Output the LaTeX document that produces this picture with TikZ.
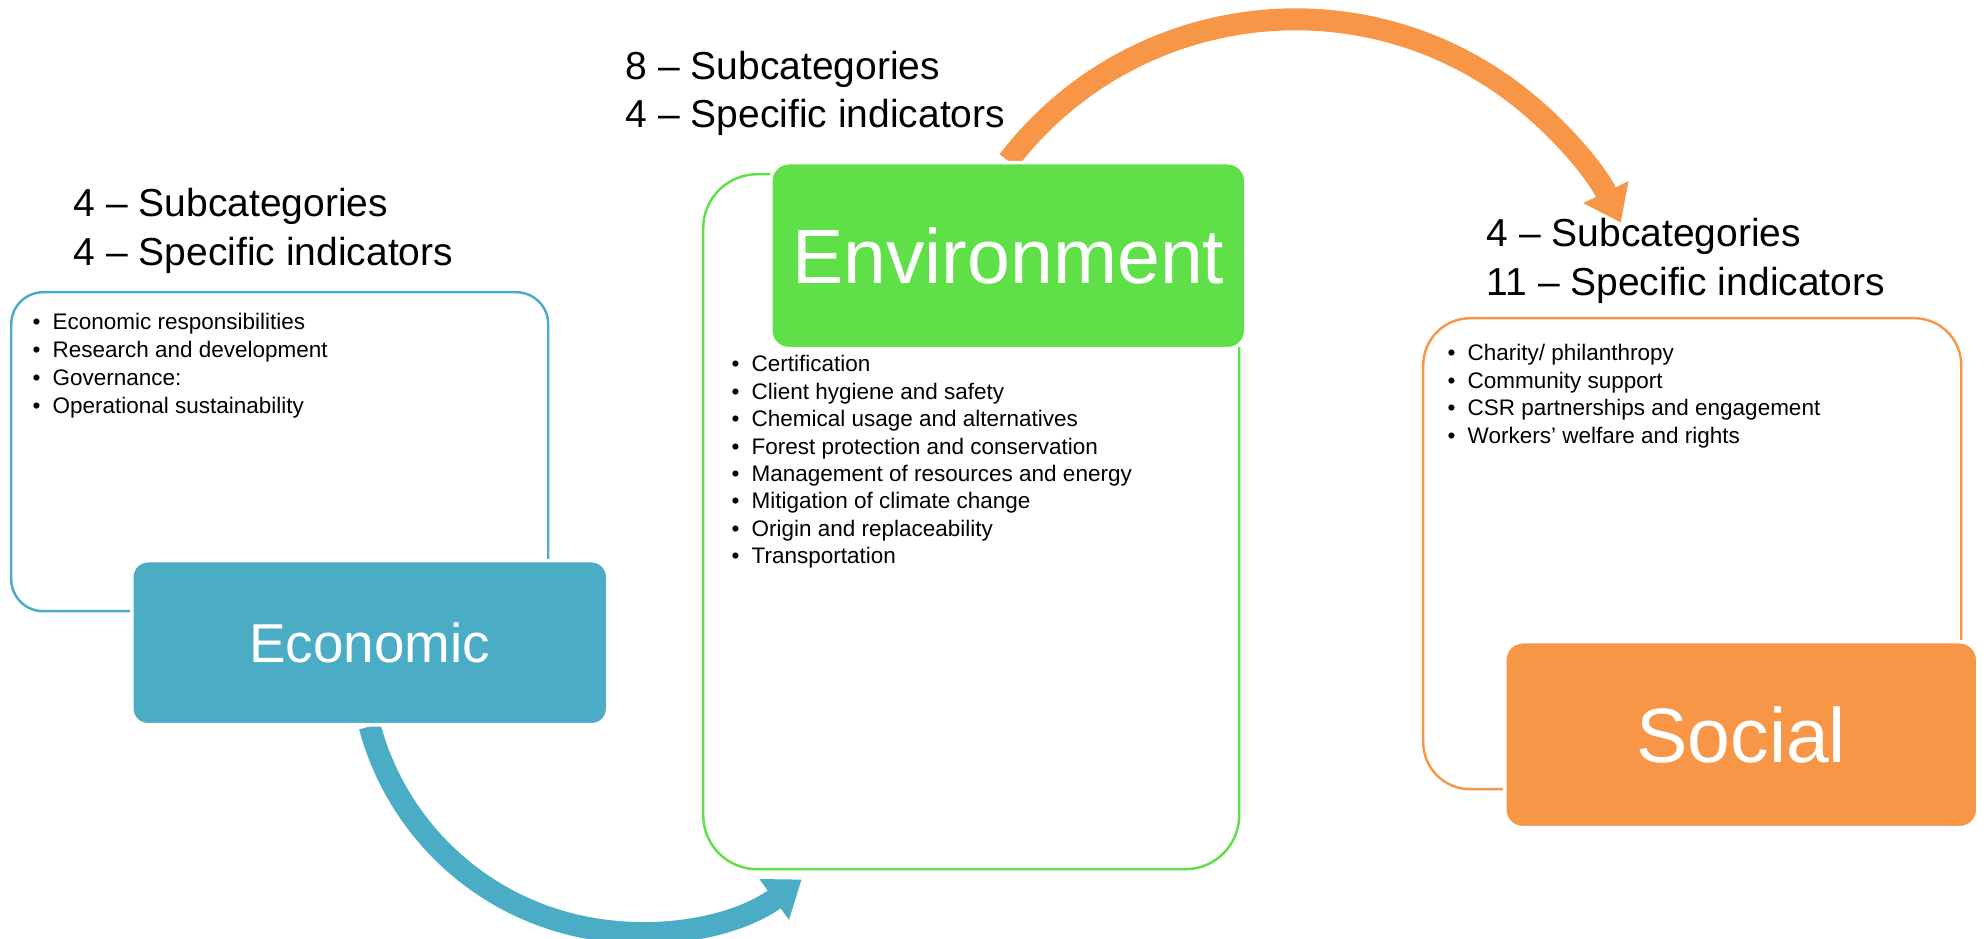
\documentclass[tikz,border=0pt]{standalone}
\usepackage{fontspec}
\setmainfont{Liberation Sans}
\usepackage{xcolor}
\usepackage{tikz}
\usetikzlibrary{arrows.meta,backgrounds}

\definecolor{econblue}{HTML}{4BACC6}
\definecolor{envgreen}{HTML}{60E048}
\definecolor{socorange}{HTML}{F79646}

% puce des listes
\newcommand{\puce}[1]{\makebox[0.20cm][l]{\textbullet}#1}

\begin{document}
\begin{tikzpicture}[
    % Cadres arrondis autour des listes
    listframe/.style={draw=#1, line width=0.7pt, anchor=north west, inner sep=0pt},
    % Blocs de titre colorés (bord blanc pour couper le cadre)
    titlebox/.style={fill=#1, draw=white, line width=1pt, anchor=north west, inner sep=0pt, text=white},
    % Lignes d'en-tête
    headline/.style={anchor=base west, inner sep=0pt, font=\fontsize{11.1}{13.7}\selectfont},
    % Lignes des listes
    listitem/.style={anchor=base west, inner sep=0pt, font=\fontsize{6.4}{7.8}\selectfont},
    % Grosses flèches courbes
    bigarrow/.style={draw=#1, line width=0.22cm, -{Triangle[length=0.34cm, width=0.48cm]}}
]
\useasboundingbox (0,0) rectangle (19.86,9.39);

% Cadres
\node[listframe=econblue, rounded corners=0.32cm, minimum width=5.37cm, minimum height=3.19cm] (econ-frame) at (0.10,6.48) {};
\node[listframe=envgreen, rounded corners=0.54cm, minimum width=5.36cm, minimum height=6.95cm] (env-frame) at (7.02,7.66) {};
\node[listframe=socorange, rounded corners=0.47cm, minimum width=5.38cm, minimum height=4.71cm] (soc-frame) at (14.22,6.22) {};

% Blocs de titre
\node[titlebox=econblue, rounded corners=0.16cm, minimum width=4.76cm, minimum height=1.64cm,
      font=\fontsize{15.6}{18}\selectfont] (econ-box) at (1.30,3.80) {Economic};
\node[titlebox=envgreen, rounded corners=0.18cm, minimum width=4.75cm, minimum height=1.86cm,
      font=\fontsize{21.9}{26}\selectfont] (env-box) at (7.69,7.78) {Environment};
\node[titlebox=socorange, rounded corners=0.18cm, minimum width=4.73cm, minimum height=1.86cm,
      font=\fontsize{21.9}{26}\selectfont] (soc-box) at (15.03,2.99) {Social};

% En-têtes
\node[headline] (econ-sub) at (0.73,7.22) {4 -- Subcategories};
\node[headline] (econ-ind) at ([yshift=-0.49cm]econ-sub.base west) {4 -- Specific indicators};
\node[headline] (env-sub) at (6.25,8.59) {8 -- Subcategories};
\node[headline] (env-ind) at ([yshift=-0.48cm]env-sub.base west) {4 -- Specific indicators};
\node[headline] (soc-sub) at (14.86,6.92) {4 -- Subcategories};
\node[headline] (soc-ind) at ([yshift=-0.49cm]soc-sub.base west) {11 -- Specific indicators};

% Listes
\foreach \txt [count=\i from 0] in {Economic responsibilities, Research and development,
        Governance:, Operational sustainability}
    \node[listitem] (econ-item-\i) at (0.32,6.09-0.277*\i) {\puce{\txt}};
\foreach \txt [count=\i from 0] in {Certification, Client hygiene and safety,
        Chemical usage and alternatives, Forest protection and conservation,
        Management of resources and energy, Mitigation of climate change,
        Origin and replaceability, Transportation}
    \node[listitem] (env-item-\i) at (7.31,5.67-0.274*\i) {\puce{\txt}};
\foreach \txt [count=\i from 0] in {Charity/ philanthropy, Community support,
        CSR partnerships and engagement, Workers’ welfare and rights}
    \node[listitem] (soc-item-\i) at (14.47,5.78-0.275*\i) {\puce{\txt}};

% Flèches (sous les blocs)
\begin{scope}[on background layer]
    \draw[bigarrow=econblue] (econ-box.south) arc[start angle=195, end angle=306, radius=2.78cm];
    \draw[bigarrow=socorange] (env-box.north) arc[start angle=142.5, end angle=26, radius=3.62cm];
\end{scope}

\end{tikzpicture}
\end{document}
